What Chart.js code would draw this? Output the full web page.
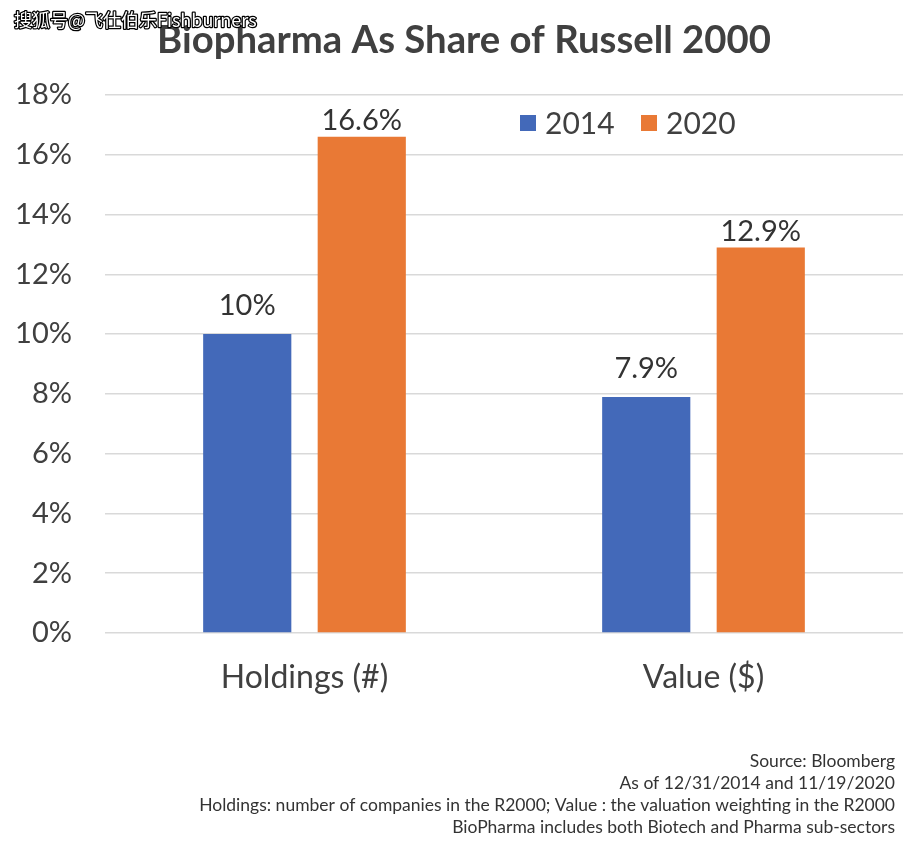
<!DOCTYPE html>
<html>
<head>
<meta charset="utf-8">
<script src="https://cdn.jsdelivr.net/npm/chart.js@4/dist/chart.umd.min.js"></script>
<style>
html,body{margin:0;padding:0;background:#fff;}
#wrap{width:923px;height:849px;position:relative;}
</style>
</head>
<body>
<div id="wrap"><canvas id="c" width="923" height="849"></canvas></div>
<script>
const categories = ["Holdings (#)", "Value ($)"];
const seriesNames = ["2014", "2020"];
const values2014 = [10, 7.9];
const values2020 = [16.6, 12.9];
const valueLabels2014 = ["10%", "7.9%"];
const valueLabels2020 = ["16.6%", "12.9%"];
const yTicks = [0, 2, 4, 6, 8, 10, 12, 14, 16, 18];
const titleText = "Biopharma As Share of Russell 2000";
const watermark = "搜狐号@飞仕伯乐Fishburners";
const footerLines = [
  "Source: Bloomberg",
  "As of 12/31/2014 and 11/19/2020",
  "Holdings: number of companies in the R2000; Value : the valuation weighting in the R2000",
  "BioPharma includes both Biotech and Pharma sub-sectors"
];

const FONT = "Lato, 'Open Sans', sans-serif";
const colors = ["#4369B9", "#E97935"];

const extras = {
  id: 'extras',
  afterDatasetsDraw(chart) {
    const ctx = chart.ctx;
    const labelSets = [valueLabels2014, valueLabels2020];
    const offsets = [28, 16];
    ctx.save();
    // title
    ctx.font = "bold 38.3px " + FONT;
    ctx.fillStyle = "#404040";
    ctx.textAlign = "center";
    ctx.textBaseline = "middle";
    ctx.fillText(titleText, 464, 41);
    // data labels
    ctx.font = "29px " + FONT;
    ctx.fillStyle = "#333333";
    chart.data.datasets.forEach((ds, i) => {
      const meta = chart.getDatasetMeta(i);
      meta.data.forEach((bar, j) => {
        ctx.fillText(labelSets[i][j], bar.x, bar.y - offsets[i]);
      });
    });
    // legend
    const legendX = [520, 641];
    const legendY = 123;
    ctx.textAlign = "left";
    ctx.font = "30px " + FONT;
    chart.data.datasets.forEach((ds, i) => {
      ctx.fillStyle = ds.backgroundColor;
      ctx.fillRect(legendX[i], legendY - 8, 16, 16);
      ctx.fillStyle = "#404040";
      ctx.fillText(ds.label, legendX[i] + 25, legendY + 1);
    });
    // footer
    ctx.font = "17.5px " + FONT;
    ctx.fillStyle = "#333333";
    ctx.textAlign = "right";
    footerLines.forEach((t, k) => {
      ctx.fillText(t, 895, 761 + k * 22);
    });
    // watermark
    ctx.font = "18px 'Noto Sans CJK SC', sans-serif";
    ctx.textAlign = "left";
    ctx.lineWidth = 2.5;
    ctx.lineJoin = "round";
    ctx.strokeStyle = "#000";
    ctx.strokeText(watermark, 14, 20);
    ctx.fillStyle = "#fff";
    ctx.fillText(watermark, 14, 20);
    ctx.restore();
  }
};

new Chart(document.getElementById('c'), {
  type: 'bar',
  data: {
    labels: categories,
    datasets: [
      { label: seriesNames[0], data: values2014, backgroundColor: colors[0], categoryPercentage: 0.574, barPercentage: 0.77 },
      { label: seriesNames[1], data: values2020, backgroundColor: colors[1], categoryPercentage: 0.574, barPercentage: 0.77 }
    ]
  },
  options: {
    responsive: false,
    animation: false,
    layout: { padding: { left: 0, right: 20, top: 95, bottom: 0 } },
    plugins: {
      legend: { display: false },
      tooltip: { enabled: false },
      title: { display: false }
    },
    scales: {
      x: {
        grid: { display: false },
        border: { display: false },
        ticks: { color: "#404040", font: { family: FONT, size: 32 }, padding: 17 },
        afterFit(scale) { scale.height = 216; }
      },
      y: {
        min: 0, max: 18,
        afterBuildTicks(scale) { scale.ticks = yTicks.map(v => ({ value: v })); },
        grid: { color: "#d9d9d9", lineWidth: 1.5, drawTicks: false },
        border: { display: false },
        ticks: { color: "#404040", font: { family: FONT, size: 29 }, padding: 33, callback: v => v + "%" },
        afterFit(scale) { scale.width = 105; }
      }
    }
  },
  plugins: [extras]
});
</script>
</body>
</html>
